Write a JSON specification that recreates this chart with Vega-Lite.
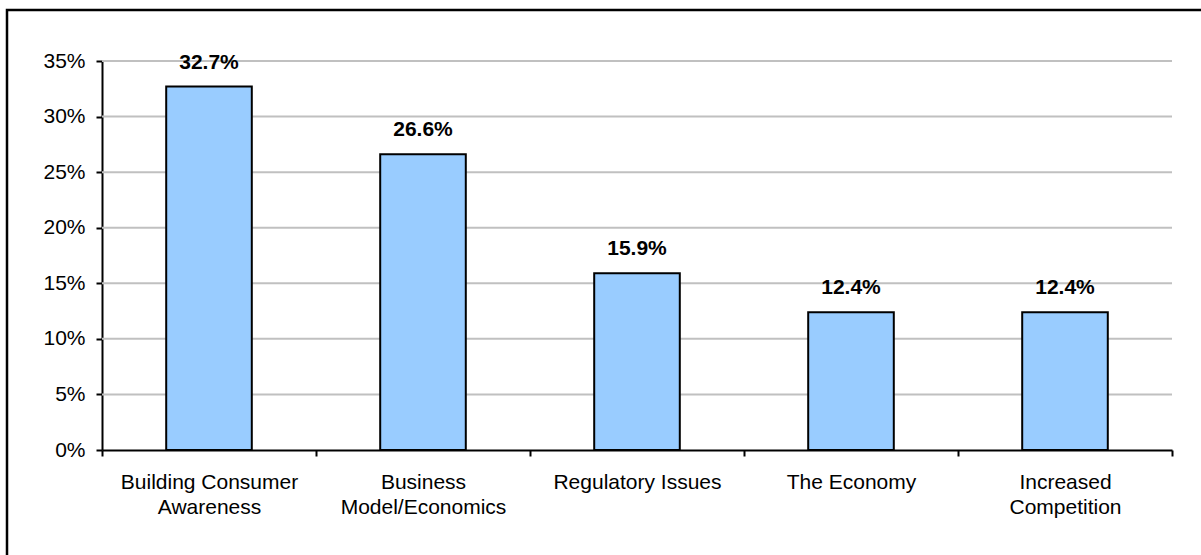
{
  "$schema": "https://vega.github.io/schema/vega-lite/v6.json",
  "width": 1194,
  "height": 545,
  "autosize": {"type": "none"},
  "padding": {"left": 7, "top": 10, "right": 0, "bottom": 0},
  "background": "white",
  "config": {
    "view": {"stroke": "black", "strokeWidth": 2.5, "strokeDash": [1194, 1739, 545], "fill": "white"},
    "font": "Liberation Sans"
  },
  "datasets": {
    "bars": [
      {"category": "Building Consumer|Awareness", "share": 0.327},
      {"category": "Business|Model/Economics", "share": 0.266},
      {"category": "Regulatory Issues", "share": 0.159},
      {"category": "The Economy", "share": 0.124},
      {"category": "Increased|Competition", "share": 0.124}
    ],
    "grid": [
      {"level": 0.05}, {"level": 0.10}, {"level": 0.15}, {"level": 0.20},
      {"level": 0.25}, {"level": 0.30}, {"level": 0.35}
    ]
  },
  "resolve": {"scale": {"x": "independent"}},
  "layer": [
    {
      "data": {"name": "grid"},
      "mark": {"type": "rule", "color": "#c0c0c0", "strokeWidth": 2},
      "encoding": {
        "x": {"datum": 0, "type": "quantitative", "scale": {"domain": [0, 1], "range": [95, 1165]}, "axis": null},
        "x2": {"datum": 1},
        "y": {
          "field": "level", "type": "quantitative",
          "scale": {"domain": [0, 0.35], "range": [440, 51], "nice": false},
          "axis": {
            "title": null, "orient": "left", "offset": -95,
            "values": [0, 0.05, 0.1, 0.15, 0.2, 0.25, 0.3, 0.35],
            "format": ".0%", "labelFontSize": 21, "labelColor": "black",
            "labelFont": "Liberation Sans", "labelPadding": 11,
            "tickSize": 6, "tickWidth": 2, "tickColor": "black",
            "domainColor": "black", "domainWidth": 2, "grid": false
          }
        }
      }
    },
    {
      "data": {"name": "bars"},
      "layer": [
        {
          "mark": {"type": "bar", "width": {"band": 0.4}, "fill": "#99CCFF", "stroke": "black", "strokeWidth": 2},
          "encoding": {
            "x": {
              "field": "category", "type": "nominal", "sort": null,
              "scale": {"range": [95, 1165], "paddingInner": 0, "paddingOuter": 0},
              "axis": {
                "title": null, "orient": "bottom", "offset": -105,
                "labelExpr": "isValid(datum.value) ? split(datum.value, '|') : ''",
                "labelAngle": 0, "labelFontSize": 21, "labelColor": "black",
                "labelLineHeight": 25, "labelPadding": 15, "labelBaseline": "top",
                "labelFont": "Liberation Sans",
                "tickBand": "extent", "tickSize": 6, "tickWidth": 2, "tickColor": "black",
                "domainColor": "black", "domainWidth": 2, "grid": false
              }
            },
            "y": {"field": "share", "type": "quantitative"}
          }
        },
        {
          "mark": {"type": "text", "fontWeight": "bold", "fontSize": 21, "font": "Liberation Sans", "baseline": "alphabetic", "dy": -18, "color": "black"},
          "encoding": {
            "x": {"field": "category", "type": "nominal", "sort": null},
            "y": {"field": "share", "type": "quantitative"},
            "text": {"field": "share", "type": "quantitative", "format": ".1%"}
          }
        }
      ]
    }
  ]
}
